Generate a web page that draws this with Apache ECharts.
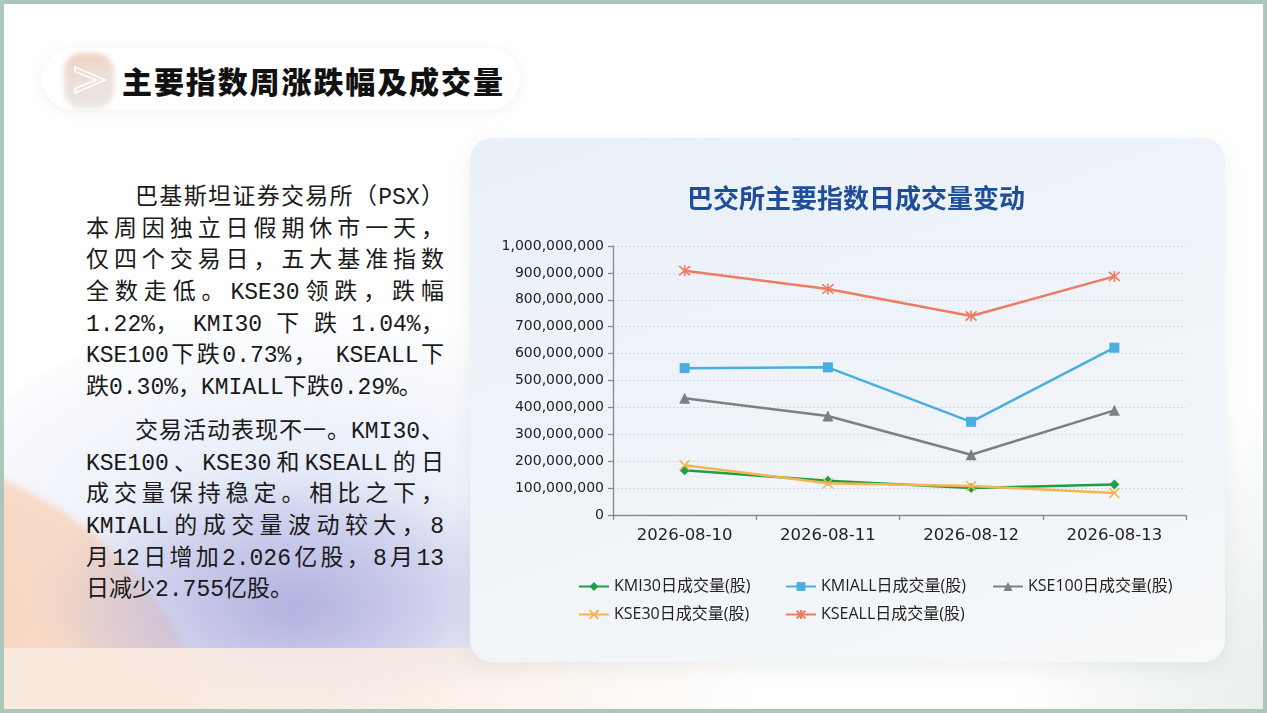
<!DOCTYPE html>
<html>
<head>
<meta charset="utf-8">
<script src="https://cdn.jsdelivr.net/npm/echarts@6/dist/echarts.min.js"></script>
<style>
  html, body { margin: 0; padding: 0; width: 1267px; height: 713px; overflow: hidden; background: #adc8ba; }
  #page { position: absolute; left: 4px; top: 4px; width: 1259px; height: 705px; background: #ffffff; overflow: hidden; }
  .blob { position: absolute; border-radius: 50%; }
  #pill { position: absolute; left: 38px; top: 44px; width: 478px; height: 62px; border-radius: 31px; background: #ffffff;
          box-shadow: 0 2px 14px rgba(120,140,130,0.13); }
  #icon { position: absolute; left: 60px; top: 49px; width: 50px; height: 55px; border-radius: 18px;
          background: linear-gradient(165deg, #f0cbb6 0%, #ebdcd2 45%, #e4e6e5 100%); filter: blur(2.5px); opacity: 0.9; }
  #chev { position: absolute; left: 60px; top: 49px; width: 50px; height: 55px; filter: blur(0.4px); }
  #ptitle { position: absolute; left: 118px; top: 56px; font-family: "Noto Sans CJK SC", sans-serif; font-weight: 900;
            font-size: 30px; line-height: 40px; letter-spacing: 1.9px; color: #111; white-space: nowrap; }
  #card { position: absolute; left: 466px; top: 134px; width: 755px; height: 524px; border-radius: 22px;
          background: linear-gradient(160deg, #eaf0f8 0%, #eef3f9 40%, #f3f6f9 80%, #f7f9fa 100%);
          box-shadow: 0 6px 22px rgba(110,130,120,0.12); }
  #chart { position: absolute; left: 466px; top: 134px; width: 755px; height: 524px; }
  .txt { position: absolute; left: 82px; width: 358px; font-family: "Liberation Mono", "Noto Sans CJK SC", monospace;
         font-size: 23px; color: #1a1a1a; }
  .ln { height: 31.7px; line-height: 31.7px; white-space: nowrap; text-align: justify; text-align-last: justify; }
  .ln.ind { text-indent: 49px; }
  .ln.last { text-align-last: left; }
</style>
</head>
<body>
<div id="page">
  <!-- background decorations -->
  <div class="blob" style="left:-60px; top:300px; width:760px; height:420px; background:radial-gradient(ellipse at 45% 50%, rgba(205,215,240,0.6), rgba(225,232,246,0) 70%);"></div>
  <div class="blob" style="left:-620px; top:432px; width:820px; height:620px; background:radial-gradient(ellipse at 70% 30%, #f6d6c2 0%, #f8e0d1 55%, #fbece2 100%); filter:blur(3px);"></div>
  <div class="blob" style="left:40px; top:470px; width:500px; height:230px; background:radial-gradient(ellipse at 50% 58%, rgba(165,165,218,0.85) 0%, rgba(180,180,225,0.55) 40%, rgba(200,200,235,0) 72%); filter:blur(10px);"></div>
  <div style="position:absolute; left:0; top:644px; width:760px; height:70px; background:linear-gradient(90deg, rgba(250,234,223,0.95) 0%, rgba(250,237,227,0.85) 55%, rgba(250,240,232,0) 100%);"></div>
  <div class="blob" style="left:1000px; top:380px; width:600px; height:600px; background:radial-gradient(ellipse at 60% 60%, rgba(200,215,205,0.55) 0%, rgba(215,226,218,0.3) 45%, rgba(230,238,233,0) 70%);"></div>

  <div id="pill"></div>
  <div id="icon"></div>
  <svg id="chev" viewBox="0 0 50 55">
    <path d="M11 14 L41 27 L11 40 L11 35.5 L32 27 L11 18.5 Z" fill="none" stroke="#ffffff" stroke-width="1.6" stroke-linejoin="miter"/>
  </svg>
  <div id="ptitle">主要指数周涨跌幅及成交量</div>

  <div class="txt" style="top:179px;">
    <div class="ln ind">巴基斯坦证券交易所（PSX）</div>
    <div class="ln">本周因独立日假期休市一天，</div>
    <div class="ln">仅四个交易日，五大基准指数</div>
    <div class="ln">全数走低。KSE30领跌，跌幅</div>
    <div class="ln">1.22%， KMI30 下 跌 1.04%，</div>
    <div class="ln">KSE100下跌0.73%， KSEALL下</div>
    <div class="ln last">跌0.30%，KMIALL下跌0.29%。</div>
  </div>
  <div class="txt" style="top:413px;">
    <div class="ln ind">交易活动表现不一。KMI30、</div>
    <div class="ln">KSE100、KSE30和KSEALL的日</div>
    <div class="ln">成交量保持稳定。相比之下，</div>
    <div class="ln">KMIALL的成交量波动较大，8</div>
    <div class="ln">月12日增加2.026亿股，8月13</div>
    <div class="ln last">日减少2.755亿股。</div>
  </div>

  <div id="card"></div>
  <div id="chart"></div>
</div>
<script>
// ---- data ----
var chartTitle = '巴交所主要指数日成交量变动';
var dates = ['2026-08-10', '2026-08-11', '2026-08-12', '2026-08-13'];
var seriesNames = ['KMI30日成交量(股)', 'KMIALL日成交量(股)', 'KSE100日成交量(股)', 'KSE30日成交量(股)', 'KSEALL日成交量(股)'];
var kmi30  = [166000000, 127000000, 100000000, 113000000];
var kmiall = [546000000, 549000000, 346400000, 621900000];
var kse100 = [434000000, 368000000, 224000000, 389000000];
var kse30  = [185000000, 118000000, 108000000, 82000000];
var kseall = [908000000, 840000000, 740000000, 887000000];
var yMin = 0, yMax = 1000000000, yStep = 100000000;

var colors = ['#1c9f48', '#4aaee0', '#7f7f7f', '#f6b352', '#ee7b63'];
var symbols = ['diamond', 'rect', 'triangle',
  'path://M0,0L10,10M10,0L0,10',
  'path://M0,0L10,10M10,0L0,10M5,-1L5,11'];
var symbolSizes = [10, 10, 11, 10, 11];
var values = [kmi30, kmiall, kse100, kse30, kseall];

var chart = echarts.init(document.getElementById('chart'), null, { renderer: 'canvas' });
var font = '"Open Sans", "Noto Sans CJK SC", sans-serif';
var axisFont = '"DejaVu Sans", sans-serif';

var series = seriesNames.map(function (name, i) {
  var isPath = symbols[i].indexOf('path://') === 0;
  return {
    name: name,
    type: 'line',
    data: values[i],
    symbol: symbols[i],
    symbolSize: symbolSizes[i],
    showAllSymbol: true,
    lineStyle: { color: colors[i], width: 2.5 },
    itemStyle: isPath ? { color: colors[i], borderColor: colors[i], borderWidth: 1.6 } : { color: colors[i] },
    emphasis: { disabled: true },
    z: 2 + i
  };
});

chart.setOption({
  animation: false,
  backgroundColor: 'transparent',
  title: {
    text: chartTitle,
    left: 381,
    textAlign: 'center',
    top: 42,
    textStyle: { fontFamily: '"Noto Sans CJK SC", sans-serif', fontSize: 26, fontWeight: 'bold', color: '#1f4d99' }
  },
  legend: {
    data: seriesNames,
    left: 108,
    top: 440,
    width: 625,
    padding: 0,
    itemWidth: 30,
    itemHeight: 11,
    itemGap: 11,
    textStyle: { fontFamily: font, fontSize: 16, color: '#222', width: 160, lineHeight: 17, overflow: 'truncate' }
  },
  grid: { left: 143, right: 39, top: 108, bottom: 147 },
  xAxis: {
    type: 'category',
    data: dates,
    boundaryGap: true,
    axisLine: { lineStyle: { color: '#8a8a8a', width: 1.3 } },
    axisTick: { show: true, length: 5, lineStyle: { color: '#8a8a8a', width: 1.3 } },
    axisLabel: { fontFamily: axisFont, fontSize: 16.5, color: '#222', margin: 12 },
    splitLine: { show: false }
  },
  yAxis: {
    type: 'value',
    min: yMin,
    max: yMax,
    interval: yStep,
    axisLine: { show: true, lineStyle: { color: '#8a8a8a', width: 1.3 } },
    axisTick: { show: true, length: 5, lineStyle: { color: '#8a8a8a', width: 1.3 } },
    axisLabel: {
      fontFamily: axisFont, fontSize: 14, color: '#222', margin: 9,
      formatter: function (v) { return v.toLocaleString('en-US'); }
    },
    splitLine: { show: true, lineStyle: { color: '#d4d8dc', type: [2, 2], width: 1 } }
  },
  series: series
});
</script>
</body>
</html>
